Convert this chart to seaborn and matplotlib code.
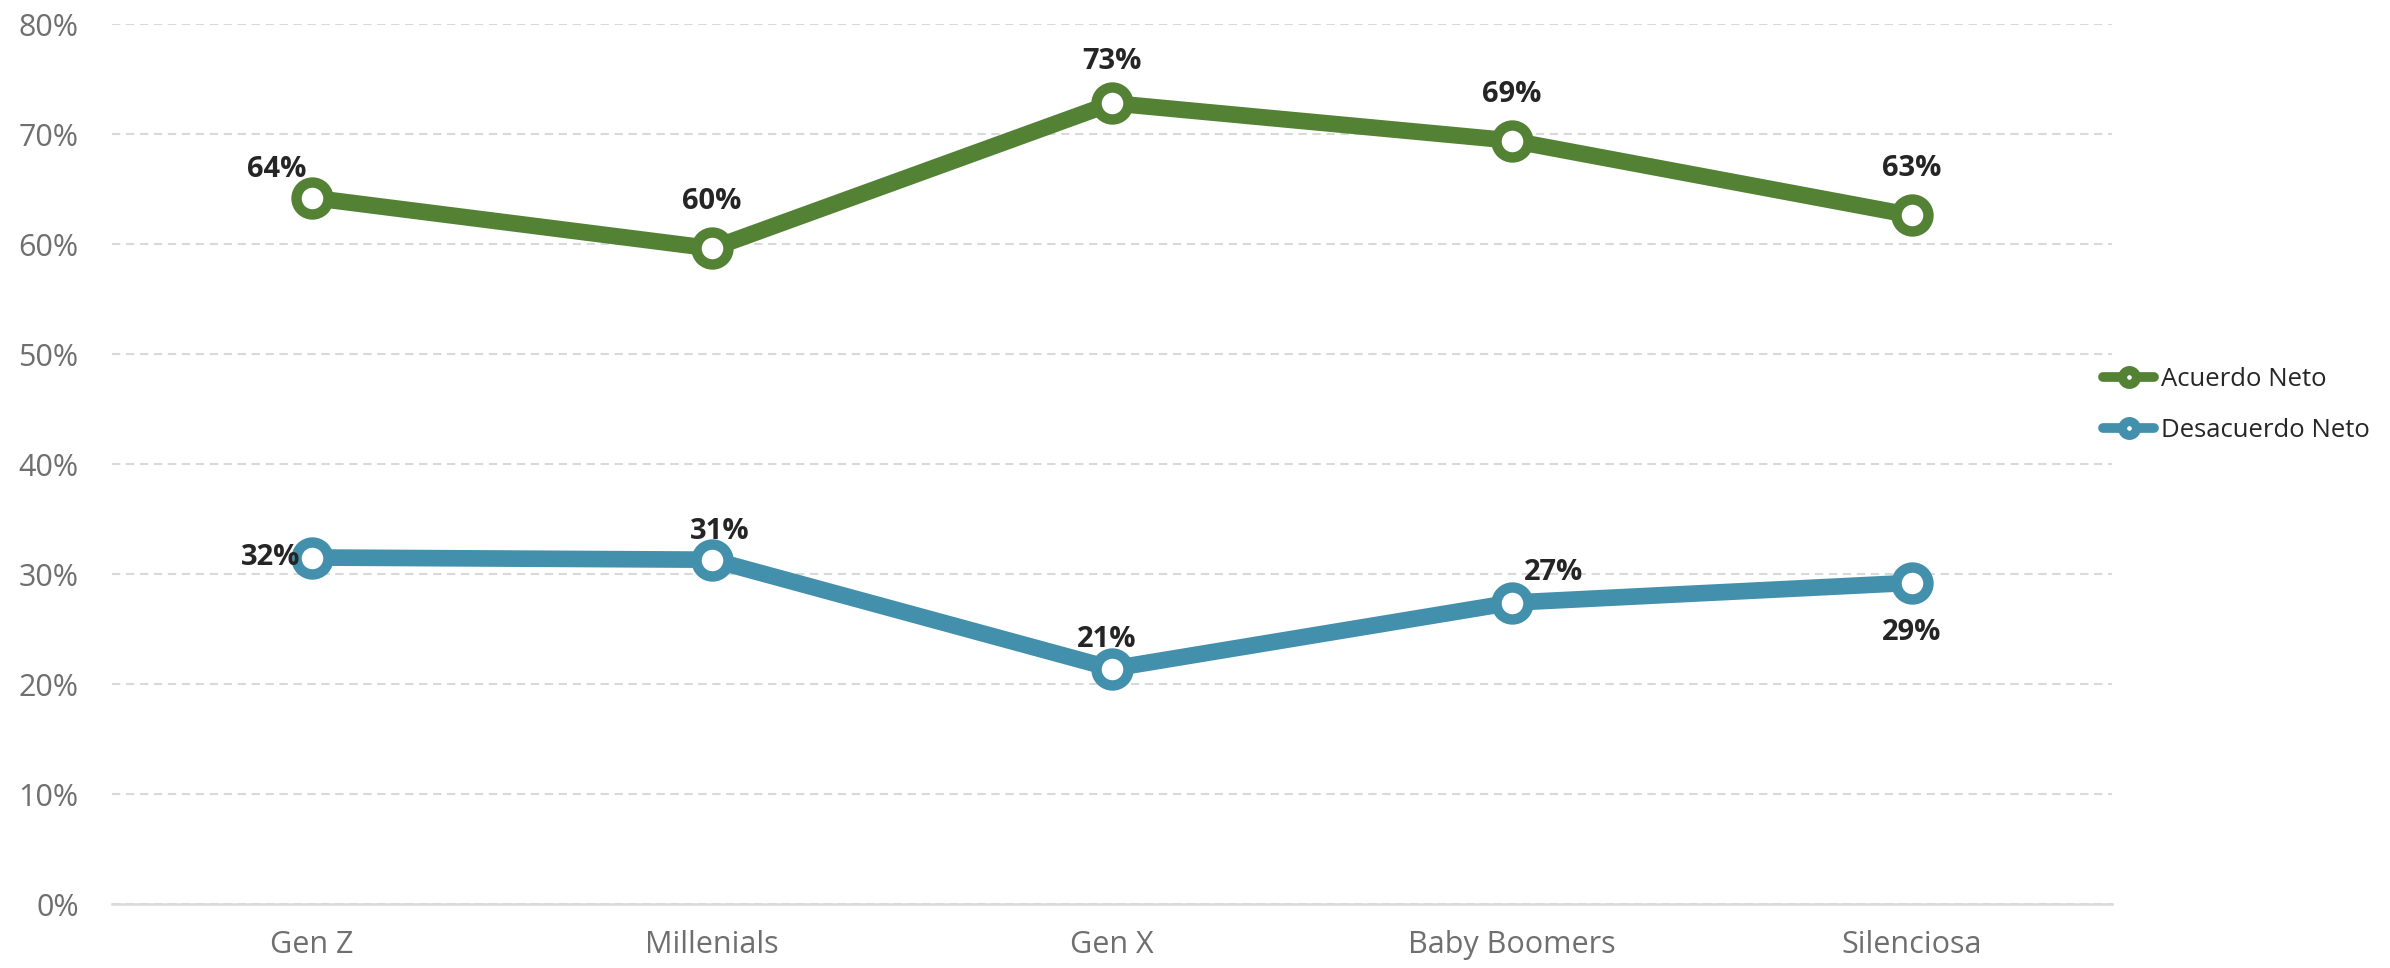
import pandas as pd
import matplotlib
matplotlib.use("Agg")
import matplotlib.pyplot as plt
import seaborn as sns
from matplotlib.lines import Line2D
from matplotlib.ticker import FuncFormatter

##### data
generaciones = ["Gen Z", "Millenials", "Gen X", "Baby Boomers", "Silenciosa"]
acuerdo = [64.2, 59.6, 72.8, 69.4, 62.6]
desacuerdo = [31.5, 31.3, 21.4, 27.4, 29.2]
series = ["Acuerdo Neto", "Desacuerdo Neto"]
colores = {"Acuerdo Neto": "#548235", "Desacuerdo Neto": "#4390ac"}
yticks = [0, 10, 20, 30, 40, 50, 60, 70, 80]

# label offsets in pixels (dx, dy), dy up is positive
off_acuerdo = [(-35, 28, "center"), (0, 47, "center"), (0, 42, "center"), (0, 46, "center"), (0, 47, "center")]
off_desacuerdo = [(-12, 0, "right"), (8, 28, "center"), (-5, 29, "center"), (12, 30, "left"), (0, -50, "center")]

df = pd.DataFrame({
    "gen": generaciones * 2,
    "valor": acuerdo + desacuerdo,
    "serie": [series[0]] * 5 + [series[1]] * 5,
})

sns.set_style("white")
plt.rcParams['font.family'] = ["Open Sans", "DejaVu Sans"]

fig = plt.figure(figsize=(23.9, 9.68), dpi=100)
ax = fig.add_axes([112 / 2390, 64 / 968, 2000 / 2390, 880 / 968])

sns.lineplot(data=df, x="gen", y="valor", hue="serie", palette=colores, sort=False,
             lw=12, marker="o", ms=23, mew=7.5, mfc="white", legend=False, ax=ax, zorder=3)
for ln in ax.lines:
    ln.set_markeredgecolor(ln.get_color())
    ln.set_solid_joinstyle("round")

ax.set_xlim(-0.5, 4.5)
ax.set_ylim(0, 80)
ax.set_yticks(yticks)
ax.yaxis.set_major_formatter(FuncFormatter(lambda v, p: f"{v:.0f}%"))
ax.grid(axis="y", color="#d9d9d9", lw=1.5, ls=(0, (4, 2.7)))
ax.grid(axis="x", visible=False)
for s in ["left", "right", "top"]:
    ax.spines[s].set_visible(False)
ax.spines["bottom"].set_color("#d9d9d9")
ax.spines["bottom"].set_linewidth(1.8)
ax.tick_params(axis="y", length=0, pad=24, labelsize=22, labelcolor="#6f6f6f")
ax.tick_params(axis="x", length=0, pad=19, labelsize=22, labelcolor="#6f6f6f")
ax.set_xlabel("")
ax.set_ylabel("")

# data labels
px = 0.72
for vals, offs in [(acuerdo, off_acuerdo), (desacuerdo, off_desacuerdo)]:
    for i, (v, (dx, dy, ha)) in enumerate(zip(vals, offs)):
        ax.annotate(f"{v:.0f}%", (generaciones[i], v), xytext=(dx * px, dy * px),
                    textcoords="offset points", ha=ha, va="center",
                    fontsize=21, fontweight="bold", color="#252525", zorder=5)

handles = [Line2D([], [], color=colores[s], lw=7, marker="o", ms=10, mew=6.5,
                  mfc="white", mec=colores[s]) for s in series]
fig.legend(handles, series, loc="center left", bbox_to_anchor=(2103 / 2390, 1 - 405 / 968),
           frameon=False, fontsize=18.5, handlelength=2.0, handletextpad=0.25,
           labelspacing=1.0, borderpad=0, borderaxespad=0)

plt.savefig("out.png", dpi=100)
